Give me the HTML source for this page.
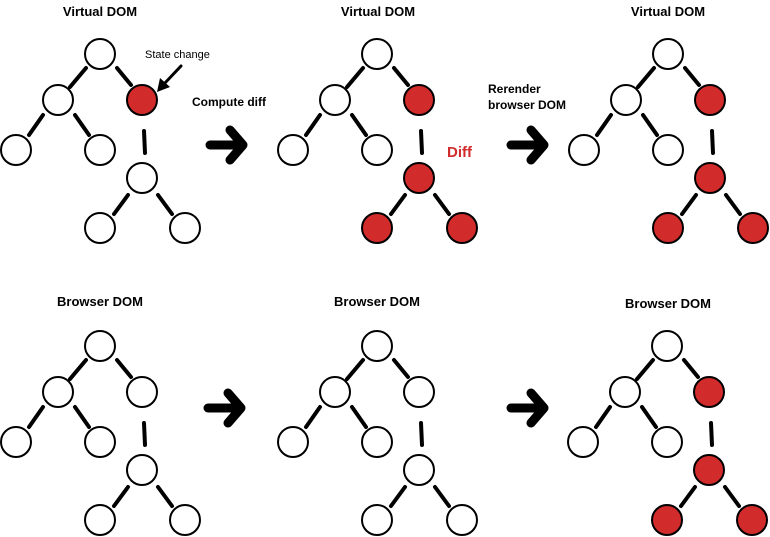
<!DOCTYPE html>
<html><head><meta charset="utf-8"><style>
html,body{margin:0;padding:0;background:#fff;width:770px;height:537px;overflow:hidden}
svg text{font-family:"Liberation Sans",sans-serif}
</style></head><body>
<svg width="770" height="537" viewBox="0 0 770 537" xmlns="http://www.w3.org/2000/svg">
<defs>
<g id="edges" stroke="#000" stroke-width="4" stroke-linecap="round">
<line x1="70" y1="87" x2="86" y2="68"/>
<line x1="117" y1="68" x2="131" y2="85"/>
<line x1="43" y1="115" x2="29" y2="135"/>
<line x1="75" y1="115" x2="89" y2="135"/>
<line x1="144" y1="131" x2="145" y2="153"/>
<line x1="128" y1="195" x2="114" y2="214"/>
<line x1="158" y1="195" x2="172" y2="214"/>
</g>
<g id="arrow" fill="none" stroke="#000" stroke-width="9" stroke-linecap="round" stroke-linejoin="round">
<line x1="210" y1="145" x2="240" y2="145"/>
<polyline points="230,130 243,145 230,160"/>
</g>
</defs>
<g fill="#fff" stroke="#000" stroke-width="2">
<!-- tree 1 -->
<g>
<use href="#edges"/>
<circle cx="100" cy="54" r="15"/><circle cx="58" cy="100" r="15"/><circle cx="142" cy="100" r="15" fill="#d12b2b"/>
<circle cx="16" cy="150" r="15"/><circle cx="100" cy="150" r="15"/><circle cx="142" cy="178" r="15"/>
<circle cx="100" cy="228" r="15"/><circle cx="185" cy="228" r="15"/>
</g>
<g transform="translate(277,0)">
<use href="#edges"/>
<circle cx="100" cy="54" r="15"/><circle cx="58" cy="100" r="15"/><circle cx="142" cy="100" r="15" fill="#d12b2b"/>
<circle cx="16" cy="150" r="15"/><circle cx="100" cy="150" r="15"/><circle cx="142" cy="178" r="15" fill="#d12b2b"/>
<circle cx="100" cy="228" r="15" fill="#d12b2b"/><circle cx="185" cy="228" r="15" fill="#d12b2b"/>
</g>
<g transform="translate(568,0)">
<use href="#edges"/>
<circle cx="100" cy="54" r="15"/><circle cx="58" cy="100" r="15"/><circle cx="142" cy="100" r="15" fill="#d12b2b"/>
<circle cx="16" cy="150" r="15"/><circle cx="100" cy="150" r="15"/><circle cx="142" cy="178" r="15" fill="#d12b2b"/>
<circle cx="100" cy="228" r="15" fill="#d12b2b"/><circle cx="185" cy="228" r="15" fill="#d12b2b"/>
</g>
<g transform="translate(0,292)">
<use href="#edges"/>
<circle cx="100" cy="54" r="15"/><circle cx="58" cy="100" r="15"/><circle cx="142" cy="100" r="15"/>
<circle cx="16" cy="150" r="15"/><circle cx="100" cy="150" r="15"/><circle cx="142" cy="178" r="15"/>
<circle cx="100" cy="228" r="15"/><circle cx="185" cy="228" r="15"/>
</g>
<g transform="translate(277,292)">
<use href="#edges"/>
<circle cx="100" cy="54" r="15"/><circle cx="58" cy="100" r="15"/><circle cx="142" cy="100" r="15"/>
<circle cx="16" cy="150" r="15"/><circle cx="100" cy="150" r="15"/><circle cx="142" cy="178" r="15"/>
<circle cx="100" cy="228" r="15"/><circle cx="185" cy="228" r="15"/>
</g>
<g transform="translate(567,292)">
<use href="#edges"/>
<circle cx="100" cy="54" r="15"/><circle cx="58" cy="100" r="15"/><circle cx="142" cy="100" r="15" fill="#d12b2b"/>
<circle cx="16" cy="150" r="15"/><circle cx="100" cy="150" r="15"/><circle cx="142" cy="178" r="15" fill="#d12b2b"/>
<circle cx="100" cy="228" r="15" fill="#d12b2b"/><circle cx="185" cy="228" r="15" fill="#d12b2b"/>
</g>
</g>
<use href="#arrow"/>
<use href="#arrow" transform="translate(301,0)"/>
<use href="#arrow" transform="translate(-2,263)"/>
<use href="#arrow" transform="translate(301,263)"/>
<!-- state change arrow -->
<line x1="181" y1="66" x2="164" y2="84" stroke="#000" stroke-width="3" stroke-linecap="round"/>
<polygon points="157,92 160,78 170,87" fill="#000"/>
<g font-weight="bold" font-size="13" fill="#000" text-anchor="middle">
<text x="100" y="16">Virtual DOM</text>
<text x="378" y="16">Virtual DOM</text>
<text x="668" y="16">Virtual DOM</text>
<text x="100" y="306">Browser DOM</text>
<text x="377" y="306">Browser DOM</text>
<text x="668" y="308">Browser DOM</text>
</g>
<text x="145" y="58" font-size="11">State change</text>
<text x="192" y="106" font-size="12" font-weight="bold">Compute diff</text>
<text x="447" y="157" font-size="15" font-weight="bold" fill="#d12b2b">Diff</text>
<text x="488" y="93" font-size="12" font-weight="bold">Rerender</text>
<text x="488" y="109" font-size="12" font-weight="bold">browser DOM</text>
</svg>
</body></html>
